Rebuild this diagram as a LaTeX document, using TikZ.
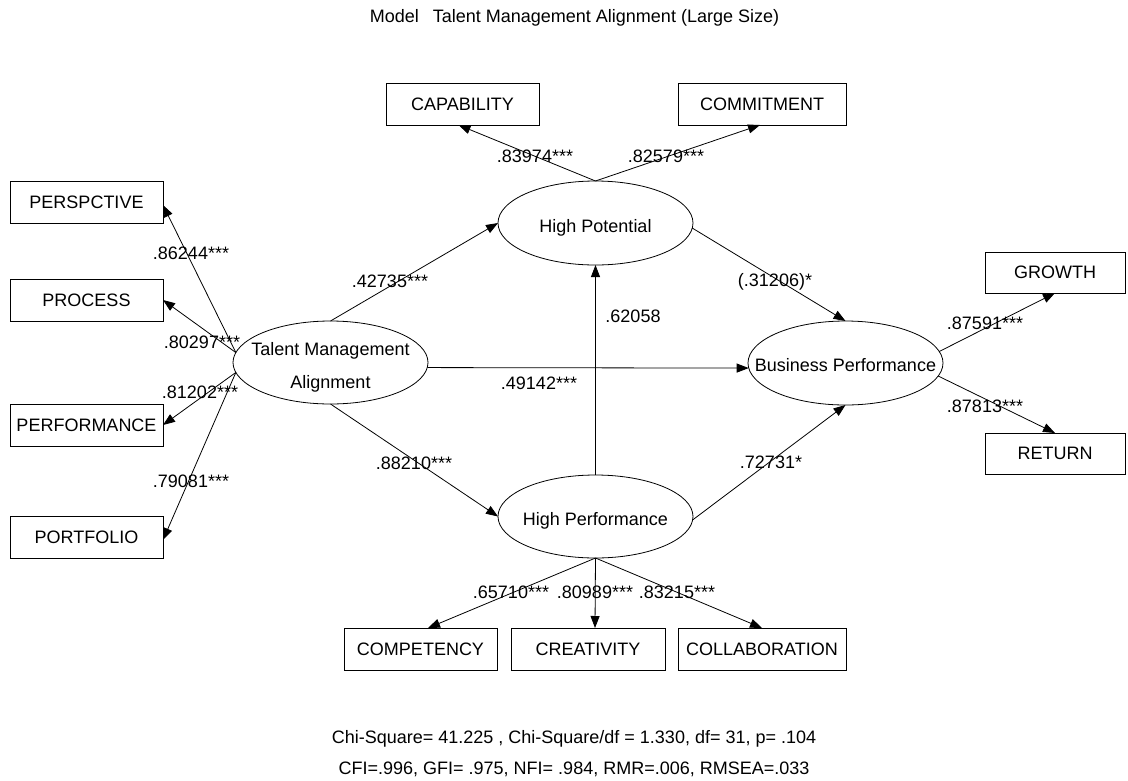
\documentclass[tikz,border=0pt]{standalone}
\usepackage{fontspec}
\setmainfont{Liberation Sans}
\usetikzlibrary{arrows.meta,calc,shapes.geometric}
\begin{document}
\begin{tikzpicture}[x=1pt,y=-1pt,
  every node/.style={font=\fontsize{18}{21.6}\selectfont},
  obs/.style={draw, line width=0.8pt, rectangle, minimum height=42pt,
    inner sep=0pt, outer sep=0pt},
  lat/.style={draw, line width=0.8pt, ellipse, minimum width=195pt,
    minimum height=83pt, inner sep=0pt, outer sep=0pt,
    text height=18pt, text depth=0pt},
  coef/.style={inner sep=0pt, text height=12.9pt, text depth=0pt},
  path/.style={line width=0.8pt, -{Triangle[length=12pt,width=9pt]}},
]
\fill[white] (0,0) rectangle (1128,780);
\useasboundingbox (0,0) rectangle (1128,780);

% title
\node[coef] (title) at (574.5,16.5) {Model\hspace{14pt}Talent Management Alignment (Large Size)};

% latent variables (text boxes given zero width so the ellipses keep their size)
\node[lat] (tma) at (330.5,362.5)
  {\makebox[0pt]{\raisebox{0pt}[0pt][0pt]{\begin{tabular}{@{}c@{}}Talent Management\\[11.4pt]Alignment\end{tabular}}}};
\node[lat, minimum height=84pt] (hp) at (595.5,223) {\makebox[0pt]{High Potential}};
\node[lat] (hperf) at (595.5,516.5) {\makebox[0pt]{High Performance}};
\node[lat, minimum height=84pt, text height=16pt] (bp) at (845.5,363) {\makebox[0pt]{Business Performance}};

% observed indicators
\node[obs, minimum width=153pt] (persp) at (86.5,202) {PERSPCTIVE};
\node[obs, minimum width=153pt] (proc) at (86.5,300) {PROCESS};
\node[obs, minimum width=153pt] (perf) at (86.5,425) {PERFORMANCE};
\node[obs, minimum width=153pt] (port) at (86.5,537) {PORTFOLIO};
\node[obs, minimum width=153pt] (cap) at (462.5,104) {CAPABILITY};
\node[obs, minimum width=168pt] (comm) at (762,104) {COMMITMENT};
\node[obs, minimum width=140pt, minimum height=41pt] (growth) at (1055,272.5) {GROWTH};
\node[obs, minimum width=140pt, minimum height=41pt] (ret) at (1055,453.5) {RETURN};
\node[obs, minimum width=153pt] (compet) at (420.5,649) {COMPETENCY};
\node[obs, minimum width=154pt] (creat) at (588,649) {CREATIVITY};
\node[obs, minimum width=168pt] (collab) at (762,649) {COLLABORATION};

% measurement paths
\draw[path] (tma.174) -- ($(persp.east)+(0,3)$);
\draw[path] (tma.174) -- (proc.east);
\draw[path] (tma.186) -- (perf.east);
\draw[path] (tma.186) -- ($(port.east)+(0,3)$);
\draw[path] (hp.north) -- ($(cap.south)+(-4,0)$);
\draw[path] (hp.north) -- ($(comm.south)+(-2,0)$);
\draw[path] (bp.7) -- (growth.south);
\draw[path] (bp.352) -- (ret.north);
\draw[path] (hperf.south) -- ($(compet.north)+(7.5,0)$);
\draw[path] (hperf.south) -- ($(creat.north)+(7,0)$);
\draw[path] (hperf.south) -- (collab.north);

% structural paths
\draw[path] (tma.north) -- (hp.west);
\draw[path] (tma.south) -- (hperf.west);
\draw[path] (tma.357) -- (bp.183);
\draw[path] (hp.357) -- (bp.north);
\draw[path] (hperf.north) -- (hp.south);
\draw[path] (hperf.358) -- (bp.south);

% coefficients
\node[coef] (c1) at (191,253) {.86244***};
\node[coef] (c2) at (202,342) {.80297***};
\node[coef] (c3) at (200,392) {.81202***};
\node[coef] (c4) at (191,481) {.79081***};
\node[coef] (c5) at (535,156) {.83974***};
\node[coef] (c6) at (666,156) {.82579***};
\node[coef] (c7) at (390,281) {.42735***};
\node[coef] (c8) at (775,280) {(.31206)*};
\node[coef] (c9) at (633,316) {.62058};
\node[coef] (c10) at (539,383) {.49142***};
\node[coef] (c11) at (414,463) {.88210***};
\node[coef] (c12) at (771,462) {.72731*};
\node[coef] (c13) at (985,323) {.87591***};
\node[coef] (c14) at (985,406) {.87813***};
\node[coef] (c15) at (511,592) {.65710***};
\node[coef] (c16) at (595,592) {.80989***};
\node[coef] (c17) at (677,592) {.83215***};

% fit statistics
\node[coef] (fit1) at (574,737) {Chi-Square= 41.225 , Chi-Square/df = 1.330, df= 31, p= .104};
\node[coef] (fit2) at (574,768) {CFI=.996, GFI= .975, NFI= .984, RMR=.006, RMSEA=.033};
\end{tikzpicture}
\end{document}
